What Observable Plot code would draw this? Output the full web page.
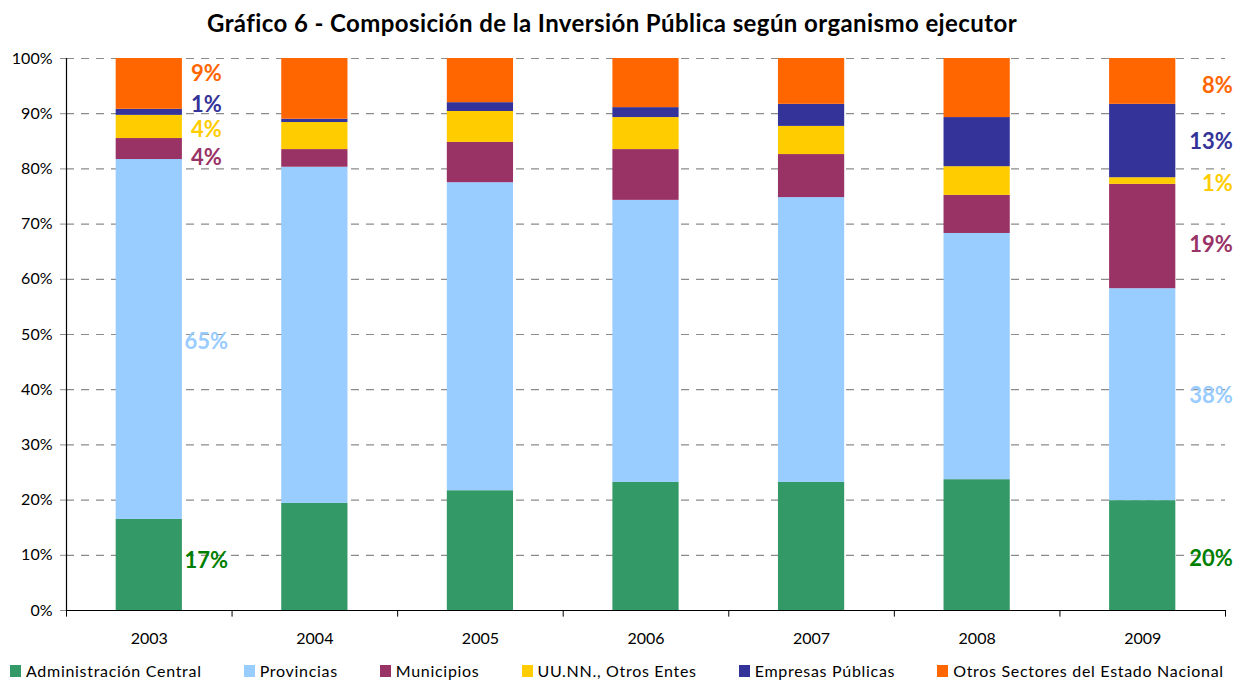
<!DOCTYPE html>
<html>
<head>
<meta charset="utf-8">
<script src="https://cdn.jsdelivr.net/npm/d3@7"></script>
<script src="https://cdn.jsdelivr.net/npm/@observablehq/plot@0.6"></script>
<style>
  html, body { margin: 0; padding: 0; background: #fff; }
  body { width: 1244px; height: 680px; position: relative; overflow: hidden; font-family: Lato, "Noto Sans", sans-serif; }
  #title { position: absolute; left: -10px; top: 8px; width: 1244px; text-align: center; font-weight: 700; font-size: 24px; letter-spacing: 0.4px; color: #000; line-height: 30px; }
  #chart { position: absolute; left: 0; top: 40px; }
  #legend { position: absolute; left: 10px; top: 661px; display: flex; gap: 42px; font-size: 16px; letter-spacing: 0.7px; line-height: 20px; color: #000; white-space: nowrap; }
  .item { display: flex; align-items: center; }
  .sw { width: 11px; height: 12px; margin-right: 5px; }
</style>
</head>
<body>
<div id="title">Gráfico 6 - Composición de la Inversión Pública según organismo ejecutor</div>
<div id="chart"></div>
<div id="legend"></div>
<script>
const years = ["2003", "2004", "2005", "2006", "2007", "2008", "2009"];
const seriesNames = ["Administración Central", "Provincias", "Municipios", "UU.NN., Otros Entes", "Empresas Públicas", "Otros Sectores del Estado Nacional"];
const adminCentral = [16.5, 19.4, 21.7, 23.2, 23.2, 23.7, 19.9];
const provincias   = [65.2, 60.9, 55.8, 51.1, 51.6, 44.6, 38.4];
const municipios   = [3.8, 3.2, 7.3, 9.2, 7.8, 6.9, 18.9];
const uunn         = [4.2, 4.9, 5.6, 5.8, 5.1, 5.2, 1.2];
const empresas     = [1.1, 0.6, 1.6, 1.8, 4.0, 8.9, 13.3];
const otros        = [9.2, 11.0, 8.0, 8.9, 8.3, 10.7, 8.3];
const yTicks = [0, 10, 20, 30, 40, 50, 60, 70, 80, 90, 100];
const labeledYears = ["2003", "2009"];

const seriesColors = ["#339966", "#99CCFF", "#993366", "#FFCC00", "#333399", "#FF6600"];
const labelColors  = ["#008000", "#99CCFF", "#993366", "#FFCC00", "#333399", "#FF6600"];

const seriesValues = [adminCentral, provincias, municipios, uunn, empresas, otros];
const rows = years.flatMap((year, i) => seriesNames.map((series, j) => ({year, series, value: seriesValues[j][i]})));

// label rows: midpoints of each stacked segment for the labeled years
const labelRows = [];
for (const year of labeledYears) {
  const i = years.indexOf(year);
  let cum = 0;
  seriesNames.forEach((series, j) => {
    const v = seriesValues[j][i];
    labelRows.push({year, series, j, mid: cum + v / 2, text: Math.round(v) + "%"});
    cum += v;
  });
}

// small vertical nudges (px) to mimic the reference's label placement
const labelDy = {
  "2003": [-4, 2, 9, 3, -7, -10],
  "2009": [3, 1, 8, 3, 1, 5]
};

const step = 1159 / 7;
const textMarks = [];
for (const r of labelRows) {
  const is2003 = r.year === "2003";
  textMarks.push(Plot.text([r], {
    x: "year", y: "mid", text: "text",
    fill: labelColors[r.j],
    fontWeight: 700, fontSize: 22,
    textAnchor: is2003 ? "middle" : "end",
    dx: is2003 ? 57 : 90,
    dy: labelDy[r.year][r.j]
  }));
}

const chart = Plot.plot({
  width: 1244,
  height: 620,
  marginTop: 18,
  marginBottom: 50,
  marginLeft: 66,
  marginRight: 19,
  style: {fontFamily: "Lato, 'Noto Sans', sans-serif", fontSize: "16px", color: "#000", background: "#fff"},
  x: {domain: years, paddingInner: 0.6, paddingOuter: 0.3, round: false, label: null},
  y: {domain: [0, 100], label: null},
  color: {domain: seriesNames, range: seriesColors},
  marks: [
    Plot.gridY(yTicks, {stroke: "#8c8c8c", strokeOpacity: 1, strokeDasharray: "8,7", strokeWidth: 1.2}),
    Plot.barY(rows, {x: "year", y: "value", fill: "series", order: seriesNames}),
    Plot.axisY({ticks: yTicks, tickFormat: d => d + "%", tickSize: 6, tickPadding: 8, stroke: "#8c8c8c", fontSize: 16}),
    Plot.axisX({tickSize: 0, tickPadding: 22, fontSize: 16, style: {letterSpacing: "0.6px"}}),
    // y axis line
    Plot.ruleX([years[0]], {x: d => d, y1: 0, y2: 100, dx: -step / 2, stroke: "#000", strokeWidth: 1.2}),
    // x axis line
    Plot.ruleY([0], {stroke: "#000", strokeWidth: 1.2}),
    // category separators below axis
    Plot.ruleX(years, {x: d => d, y1: 0, y2: -1.2, dx: -step / 2, stroke: "#000"}),
    Plot.ruleX([years[years.length - 1]], {x: d => d, y1: 0, y2: -1.2, dx: step / 2, stroke: "#000"}),
    ...textMarks
  ]
});
document.getElementById("chart").appendChild(chart);

const legend = document.getElementById("legend");
seriesNames.forEach((s, j) => {
  const item = document.createElement("div");
  item.className = "item";
  const sw = document.createElement("div");
  sw.className = "sw";
  sw.style.background = seriesColors[j];
  const t = document.createElement("span");
  t.textContent = s;
  item.appendChild(sw);
  item.appendChild(t);
  legend.appendChild(item);
});
</script>
</body>
</html>
